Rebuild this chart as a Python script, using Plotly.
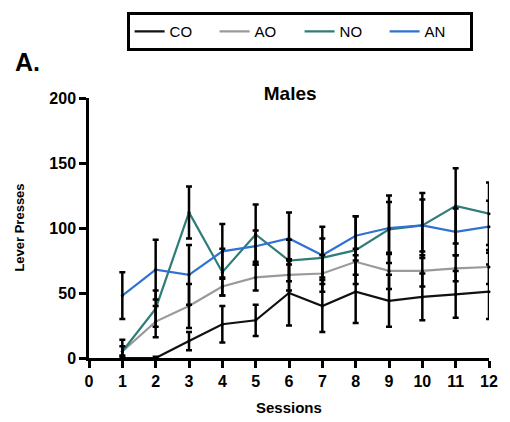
import plotly.graph_objects as go

sessions = list(range(1, 13))

co_mean = [0, 0, 13, 26, 29, 50, 40, 51, 44, 47, 49, 51]
ao_mean = [5, 28, 40, 55, 62, 64, 65, 74, 67, 67, 69, 70]
no_mean = [5, 38, 112, 66, 95, 75, 77, 83, 99, 102, 117, 111]
an_mean = [48, 68, 64, 82, 86, 92, 79, 94, 100, 102, 97, 101]

co_err = [2, 1, 7, 14, 12, 25, 20, 24, 20, 18, 18, 21]
ao_err = [4, 12, 17, 7, 10, 12, 14, 10, 14, 12, 10, 13]
no_err = [9, 14, 20, 18, 23, 16, 15, 26, 26, 25, 29, 24]
an_err = [18, 23, 23, 21, 12, 20, 22, 15, 20, 20, 18, 20]

groups = ["CO", "AO", "NO", "AN"]
colors = ["#111111", "#9a9a9a", "#2e7d78", "#2f72d2"]
means = [co_mean, ao_mean, no_mean, an_mean]
errs = [co_err, ao_err, no_err, an_err]

fig = go.Figure()

# mean lines
for name, col, m in zip(groups, colors, means):
    fig.add_trace(go.Scatter(
        x=sessions, y=m, name=name, mode="lines",
        line=dict(color=col, width=2.2),
    ))

# error bars on top, all black
for m, e in zip(means, errs):
    fig.add_trace(go.Scatter(
        x=sessions, y=m, mode="markers", showlegend=False,
        marker=dict(color="black", size=3),
        error_y=dict(type="data", array=e, color="black", thickness=2.5, width=3),
        cliponaxis=False, hoverinfo="skip",
    ))

font = "Liberation Sans, Arial, sans-serif"

fig.update_layout(
    width=510, height=422,
    margin=dict(l=89, r=17, t=98, b=64),
    plot_bgcolor="white", paper_bgcolor="white",
    font=dict(family=font, color="black"),
    title=dict(text="<b>Males</b>", x=0.569, xanchor="center",
               y=1 - 93 / 422, yanchor="middle", font=dict(size=19)),
    legend=dict(
        orientation="h", x=0.094, xanchor="left", y=1.33, yanchor="top",
        bordercolor="black", borderwidth=3, entrywidth=40,
        font=dict(size=15), itemwidth=30,
    ),
    xaxis=dict(
        range=[0, 12], tickmode="array", tickvals=list(range(0, 13)),
        ticktext=[f"<b>{i}</b>" for i in range(0, 13)],
        showline=True, linecolor="black", linewidth=2.5,
        ticks="outside", ticklen=7, tickwidth=2.5, tickcolor="black",
        showgrid=False, zeroline=False, tickfont=dict(size=16),
    ),
    yaxis=dict(
        range=[0, 200], tickmode="array", tickvals=[0, 50, 100, 150, 200],
        ticktext=["<b>0</b>", "<b>50</b>", "<b>100</b>", "<b>150</b>", "<b>200</b>"],
        showline=True, linecolor="black", linewidth=2.5,
        ticks="outside", ticklen=7, tickwidth=2.5, tickcolor="black",
        showgrid=False, zeroline=False, tickfont=dict(size=16),
    ),
    annotations=[
        dict(text="<b>A.</b>", xref="paper", yref="paper", x=-0.19, y=1.138,
             xanchor="left", yanchor="middle", showarrow=False, font=dict(size=25)),
        dict(text="<b>Lever Presses</b>", xref="paper", yref="paper", x=-0.176, y=0.5,
             textangle=-90, xanchor="center", yanchor="middle", showarrow=False,
             font=dict(size=13)),
        dict(text="<b>Sessions</b>", xref="paper", yref="paper", x=0.5, y=-0.192,
             xanchor="center", yanchor="middle", showarrow=False, font=dict(size=15)),
    ],
)

fig.write_html("out.html", config={"displayModeBar": False},
               post_script="document.body.style.margin='0';")
